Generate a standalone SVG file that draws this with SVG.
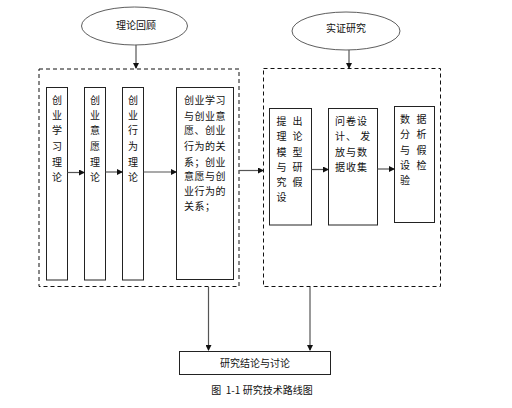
<svg xmlns="http://www.w3.org/2000/svg" width="512" height="408" viewBox="0 0 512 408">
<style>
.t{font-family:"Noto Sans CJK SC","Liberation Sans",sans-serif;font-size:10px;fill:#111}
.c{text-anchor:middle}
.box{fill:#fff;stroke:#222;stroke-width:1}
.dash{fill:none;stroke:#111;stroke-width:1;stroke-dasharray:4,3}
.ell{fill:#fff;stroke:#333;stroke-width:0.8}
.ln{stroke:#555;stroke-width:1.2;fill:none}
</style>
<defs>
<marker id="ah" markerWidth="6" markerHeight="6" refX="5" refY="3" orient="auto" markerUnits="userSpaceOnUse">
<path d="M0,0 L6,3 L0,6 Z" fill="#111"/>
</marker>
</defs>
<rect width="512" height="408" fill="#fff"/>

<g id="ellipse-theory">
<ellipse class="ell" cx="134.5" cy="26" rx="53" ry="19"/>
<text class="t c" x="136" y="29">理论回顾</text>
</g>
<g id="ellipse-empirical">
<ellipse class="ell" cx="346" cy="31" rx="54" ry="19"/>
<text class="t c" x="346" y="32">实证研究</text>
</g>

<g id="group-theory">
<rect class="dash" x="39" y="69" width="200" height="217.5"/>
</g>
<g id="group-empirical">
<rect class="dash" x="263.5" y="68.5" width="177" height="218"/>
</g>

<g id="node-learning">
<rect class="box" x="46.5" y="87.5" width="21" height="192.5"/>
<text class="t c"><tspan x="57" y="104">创</tspan><tspan x="57" y="119">业</tspan><tspan x="57" y="134">学</tspan><tspan x="57" y="150">习</tspan><tspan x="57" y="166">理</tspan><tspan x="57" y="181">论</tspan></text>
</g>
<g id="node-intention">
<rect class="box" x="84.5" y="87.5" width="21" height="192.5"/>
<text class="t c"><tspan x="95" y="104">创</tspan><tspan x="95" y="119">业</tspan><tspan x="95" y="134">意</tspan><tspan x="95" y="150">愿</tspan><tspan x="95" y="166">理</tspan><tspan x="95" y="181">论</tspan></text>
</g>
<g id="node-behavior">
<rect class="box" x="122.5" y="87.5" width="21" height="192.5"/>
<text class="t c"><tspan x="133" y="104">创</tspan><tspan x="133" y="119">业</tspan><tspan x="133" y="134">行</tspan><tspan x="133" y="150">为</tspan><tspan x="133" y="166">理</tspan><tspan x="133" y="181">论</tspan></text>
</g>
<g id="node-relations">
<rect class="box" x="176.5" y="87.5" width="57" height="192"/>
<text class="t" style="letter-spacing:0.5px"><tspan x="184" y="104">创业学习</tspan><tspan x="184" y="120">与创业意</tspan><tspan x="184" y="134">愿、创业</tspan><tspan x="184" y="150">行为的关</tspan><tspan x="184" y="166">系；创业</tspan><tspan x="184" y="180">意愿与创</tspan><tspan x="184" y="195">业行为的</tspan><tspan x="184" y="210">关系；</tspan></text>
</g>

<g id="node-model">
<rect class="box" x="269.5" y="108.5" width="42" height="116.5"/>
<text class="t c"><tspan x="281.5" y="125">提</tspan><tspan x="281.5" y="140">理</tspan><tspan x="281.5" y="156">模</tspan><tspan x="281.5" y="171">与</tspan><tspan x="281.5" y="186">究</tspan><tspan x="281.5" y="201">设</tspan></text>
<text class="t c"><tspan x="297.5" y="125">出</tspan><tspan x="297.5" y="140">论</tspan><tspan x="297.5" y="156">型</tspan><tspan x="297.5" y="171">研</tspan><tspan x="297.5" y="186">假</tspan></text>
</g>
<g id="node-survey">
<rect class="box" x="328.5" y="108.5" width="49" height="116.5"/>
<text class="t" style="letter-spacing:1px" xml:space="preserve"><tspan x="335" y="125">问卷设</tspan><tspan x="335" y="140">计、 发</tspan><tspan x="335" y="156">放与数</tspan><tspan x="335" y="171">据收集</tspan></text>
</g>
<g id="node-analysis">
<rect class="box" x="394.5" y="106.5" width="40" height="116"/>
<text class="t c"><tspan x="405" y="123">数</tspan><tspan x="405" y="138">分</tspan><tspan x="405" y="154">与</tspan><tspan x="405" y="169">设</tspan><tspan x="405" y="184">验</tspan></text>
<text class="t c"><tspan x="421.5" y="123">据</tspan><tspan x="421.5" y="138">析</tspan><tspan x="421.5" y="154">假</tspan><tspan x="421.5" y="169">检</tspan></text>
</g>

<g id="node-conclusion">
<rect class="box" x="179.5" y="351.5" width="151" height="23"/>
<text class="t c" x="255" y="367">研究结论与讨论</text>
</g>

<g id="connectors">
<line class="ln" x1="136" y1="45" x2="136" y2="68" marker-end="url(#ah)"/>
<line class="ln" x1="349" y1="50" x2="349" y2="68" marker-end="url(#ah)"/>
<line class="ln" x1="67.5" y1="172.5" x2="84" y2="172.5" marker-end="url(#ah)"/>
<line class="ln" x1="105.5" y1="172" x2="122" y2="172" marker-end="url(#ah)"/>
<line class="ln" x1="143.5" y1="172" x2="176" y2="172" marker-end="url(#ah)"/>
<line class="ln" x1="239" y1="170.5" x2="263" y2="170.5" marker-end="url(#ah)"/>
<line class="ln" x1="311.5" y1="169.5" x2="328" y2="169.5" marker-end="url(#ah)"/>
<line class="ln" x1="377.5" y1="169" x2="394" y2="169" marker-end="url(#ah)"/>
<line class="ln" x1="208.5" y1="287" x2="208.5" y2="350" marker-end="url(#ah)"/>
<line class="ln" x1="310" y1="287" x2="310" y2="350" marker-end="url(#ah)"/>
</g>

<text class="t c" x="262" y="394" style="font-size:10px" xml:space="preserve">图  1-1 研究技术路线图</text>
</svg>
